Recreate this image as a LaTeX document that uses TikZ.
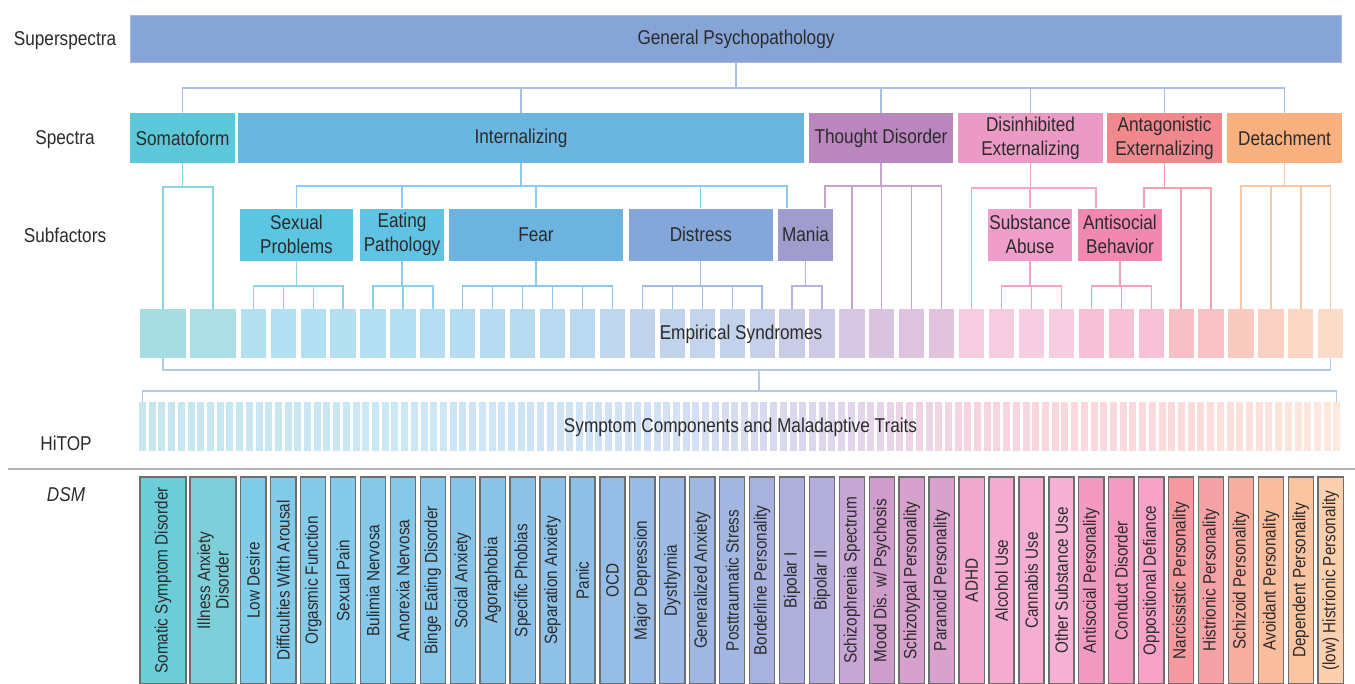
\documentclass[tikz,border=0pt]{standalone}
\usepackage{fontspec}
\setmainfont{Liberation Sans}[FakeStretch=0.86]
\usetikzlibrary{calc}
\definecolor{txt}{HTML}{2B2B2B}
\definecolor{cGP}{HTML}{86A5D6}
\definecolor{cGPb}{HTML}{A3BAE2}
\definecolor{cSom}{HTML}{5CC8DA}
\definecolor{cInt}{HTML}{6AB6E0}
\definecolor{cThd}{HTML}{B986BD}
\definecolor{cDis}{HTML}{EA9AC4}
\definecolor{cAnt}{HTML}{F0888E}
\definecolor{cDet}{HTML}{F8B07E}
\definecolor{cSex}{HTML}{5CC6E2}
\definecolor{cEat}{HTML}{60C3E3}
\definecolor{cFear}{HTML}{6DB3E0}
\definecolor{cDist}{HTML}{84A6D8}
\definecolor{cMan}{HTML}{A09CCE}
\definecolor{cSub}{HTML}{EE9EC8}
\definecolor{cAsb}{HTML}{F088B0}
\definecolor{lGP}{HTML}{A9BFE3}
\definecolor{lSom}{HTML}{8AD6E4}
\definecolor{lInt}{HTML}{8CCBEE}
\definecolor{lThd}{HTML}{C9A3D0}
\definecolor{lDis}{HTML}{F4A6C8}
\definecolor{lAnt}{HTML}{F2A0B2}
\definecolor{lDet}{HTML}{F9C9A5}
\definecolor{lSex}{HTML}{8DD3EC}
\definecolor{lEat}{HTML}{8DD0EC}
\definecolor{lFear}{HTML}{8FC6EC}
\definecolor{lDist}{HTML}{A3BCE6}
\definecolor{lMan}{HTML}{BAB2DE}
\definecolor{lSub}{HTML}{F4A2C6}
\definecolor{lAsb}{HTML}{F3A0C0}
\definecolor{lBr}{HTML}{B7C9EA}
\definecolor{sepc}{HTML}{B4B4B4}
\definecolor{dgray}{HTML}{6E6E6E}
\tikzset{
  box/.style={rectangle, inner sep=0pt, align=center, text=txt, font=\fontsize{20}{24}\selectfont},
  lbl/.style={text=txt, font=\fontsize{20}{24}\selectfont, inner sep=0pt, anchor=base},
  con/.style={line width=1.3pt},
  ebox/.style={rectangle, inner sep=0pt, minimum height=49pt},
  dbox/.style={rectangle, inner sep=0pt, draw=dgray, line width=1.4pt, rotate=90,
    minimum width=207pt, font=\fontsize{17.8}{18.5}\selectfont, text=txt, align=center},
  bar/.style={rectangle, inner sep=0pt, minimum width=7pt, minimum height=49pt},
}
\newcommand\mytree[6]{%
  \coordinate (tb) at (#1.south |- 0,#2);
  \draw[con,#3] (#4) |- (tb) -| (#5);
  \draw[con,#3] (#1.south) -- (tb);
  \foreach \c in {#6} {\draw[con,#3] (tb -| \c) -- (\c);}
}
\begin{document}
\begin{tikzpicture}[x=1pt,y=-1pt]
\useasboundingbox (0,0) rectangle (1355,684);

% ---------- superspectra and spectra
\node[box, fill=cGP, draw=cGPb, line width=1pt, minimum width=1211pt, minimum height=47pt] (gp) at (736,39) {General Psychopathology};
\node[box, fill=cSom, minimum width=105pt, minimum height=50pt] (som) at (182.5,138) {Somatoform};
\node[box, fill=cInt, minimum width=566pt, minimum height=50pt] (int) at (521,138) {Internalizing};
\node[box, fill=cThd, minimum width=144pt, minimum height=50pt] (thd) at (881,138) {Thought Disorder};
\node[box, fill=cDis, minimum width=145pt, minimum height=50pt] (dis) at (1030.5,138) {Disinhibited\\Externalizing};
\node[box, fill=cAnt, minimum width=115pt, minimum height=50pt] (ant) at (1164.5,138) {Antagonistic\\Externalizing};
\node[box, fill=cDet, minimum width=115pt, minimum height=50pt] (det) at (1284.5,138) {Detachment};

% ---------- subfactors
\node[box, fill=cSex, minimum width=113pt, minimum height=52pt] (sex) at (296.5,234.7) {Sexual\\Problems};
\node[box, fill=cEat, minimum width=84pt, minimum height=52pt] (eat) at (402,234.7) {Eating\\Pathology};
\node[box, fill=cFear, minimum width=174pt, minimum height=52pt] (fear) at (536,234.7) {Fear};
\node[box, fill=cDist, minimum width=143.6pt, minimum height=52pt] (dist) at (700.8,234.7) {Distress};
\node[box, fill=cMan, minimum width=55pt, minimum height=52pt] (mania) at (805.5,234.7) {Mania};
\node[box, fill=cSub, minimum width=84pt, minimum height=52pt] (subst) at (1030,234.7) {Substance\\Abuse};
\node[box, fill=cAsb, minimum width=84pt, minimum height=52pt] (antib) at (1120,234.7) {Antisocial\\Behavior};

% ---------- empirical syndromes
\foreach \i/\col in {1/A7DCE3,2/ACDEE6,3/B2E0F1,4/B3E0F2,5/B3E0F2,6/B4E0F2,7/B4DFF2,8/B5DFF2,9/B6DEF2,
  10/B6DCF1,11/B7DBF1,12/B8DAF0,13/B9D9F0,14/BAD8EF,15/BED6EE,16/C0D5ED,17/C2D4EC,18/C3D4EC,19/C4D3EC,
  20/C7D0EA,21/C9CCE7,22/CCCAE6,23/D6C6E1,24/DAC3DF,25/DEC3DE,26/E2C3DD,27/F5CCE0,28/F6CCE0,29/F6CDE1,
  30/F7CDE2,31/F7C0D6,32/F7C1D6,33/F7C2D8,34/F8C0C6,35/F8C2C4,36/F9CABF,37/FAD0C2,38/FBD6C4,39/FCDCC8} {
  \pgfmathsetmacro\xl{\i==1 ? 140 : (\i==2 ? 190 : 240.7+29.93*(\i-3))}
  \pgfmathsetmacro\w{\i<3 ? 46 : 25.2}
  \definecolor{tmpc}{HTML}{\col}
  \node[ebox, fill=tmpc, minimum width=\w pt] (e\i) at (\xl+\w/2, 333.5) {};
}

% ---------- HiTOP bars
\foreach \a/\b/\hA/\hB in {1/25/C6E7EF/CBE8F5, 25/55/CBE8F5/D2E2F4, 55/68/D2E2F4/DAD8EE,
   68/78/DAD8EE/E8D5E8, 78/88/E8D5E8/F8D5E1, 88/108/F8D5E1/FADBDB, 108/124/FADBDB/FDE9DE} {
  \definecolor{ca}{HTML}{\hA}\definecolor{cb}{HTML}{\hB}
  \foreach \i in {\a,...,\b} {
    \pgfmathtruncatemacro\p{100*(\i-\a)/(\b-\a)}
    \node[bar, fill=cb!\p!ca] (h\i) at (142.5+9.71*\i-9.71, 426.5) {};
  }
}

% ---------- DSM boxes
\foreach \i/\col/\t in {1/6CCDD9/Somatic Symptom Disorder, 2/7DD0DA/{Illness Anxiety\\Disorder},
  3/80CDEA/Low Desire, 4/82CBEA/Difficulties With Arousal, 5/84CBEA/Orgasmic Function,
  6/84CAEA/Sexual Pain, 7/85C8EA/Bulimia Nervosa, 8/86C8EA/Anorexia Nervosa,
  9/88C6EA/Binge Eating Disorder, 10/88C4E8/Social Anxiety, 11/8CC4E8/Agoraphobia,
  12/8CC2E8/Specific Phobias, 13/8EC2E8/Separation Anxiety, 14/8EC0E6/Panic, 15/96BDE6/OCD,
  16/98BCE6/Major Depression, 17/9CBAE4/Dysthymia, 18/9EB8E2/Generalized Anxiety,
  19/A2B6E2/Posttraumatic Stress, 20/A8B2DE/Borderline Personality, 21/B0B0DC/Bipolar I,
  22/B4AEDB/Bipolar II, 23/C6A6D4/Schizophrenia Spectrum, 24/CF9CCB/{Mood Dis. w/ Psychosis},
  25/D5A0CC/Schizotypal Personality, 26/D8A2CC/Paranoid Personality, 27/F2A8CC/ADHD,
  28/F5ACD0/Alcohol Use, 29/F5AED2/Cannabis Use, 30/F5B2D4/Other Substance Use,
  31/F39AC0/Antisocial Personality, 32/F49CC0/Conduct Disorder, 33/F5A2C6/Oppositional Defiance,
  34/F4999F/Narcissistic Personality, 35/F5A2A6/Histrionic Personality, 36/F8AE9E/Schizoid Personality,
  37/F9BC9C/Avoidant Personality, 38/FAC4A0/Dependent Personality, 39/FCCFAE/(low) Histrionic Personality} {
  \pgfmathsetmacro\xl{\i==1 ? 140 : (\i==2 ? 190 : 240.7+29.93*(\i-3))}
  \pgfmathsetmacro\w{\i<3 ? 46 : 25.2}
  \definecolor{tmpc}{HTML}{\col}
  \node[dbox, fill=tmpc, minimum height=\w pt] (d\i) at (\xl+\w/2, 580.5) {\t};
}

% ---------- connectors
\mytree{gp}{88}{lGP}{som.north}{det.north}{int.north,thd.north,dis.north,ant.north}
\mytree{som}{187}{lSom}{e1.north}{e2.north}{e1.north}
\coordinate (mI) at (787,0 |- mania.north);
\mytree{int}{186}{lInt}{sex.north}{mI}{eat.north,fear.north,dist.north}
\coordinate (mT) at (825,0 |- mania.north);
\mytree{thd}{186}{lThd}{mT}{e26.north}{e23.north,e24.north,e25.north}
\coordinate (aD) at (1096,0 |- antib.north);
\mytree{dis}{188}{lDis}{e27.north}{aD}{subst.north}
\coordinate (aA) at (1144,0 |- antib.north);
\mytree{ant}{188}{lAnt}{aA}{e35.north}{e34.north}
\mytree{det}{186}{lDet}{e36.north}{e39.north}{e37.north,e38.north}
\mytree{sex}{286}{lSex}{e3.north}{e6.north}{e4.north,e5.north}
\mytree{eat}{286}{lEat}{e7.north}{e9.north}{e8.north}
\mytree{fear}{286}{lFear}{e10.north}{e15.north}{e11.north,e12.north,e13.north,e14.north}
\mytree{dist}{286}{lDist}{e16.north}{e20.north}{e17.north,e18.north,e19.north}
\mytree{mania}{286}{lMan}{e21.north}{e22.north}{e21.north}
\mytree{subst}{286}{lSub}{e28.north}{e30.north}{e29.north}
\mytree{antib}{286}{lAsb}{e31.north}{e33.north}{e32.north}

\coordinate (b1) at (759,370);
\coordinate (b2) at (759,391);
\draw[con,lBr] (e1.south) |- (b1) -| (e39.south);
\draw[con,lBr] (b1) -- (b2);
\draw[con,lBr] (h1.north) |- (b2) -| (h124.north);

% separator
\coordinate (s1) at (8,469);
\coordinate (s2) at (1355,469);
\draw[line width=1.5pt, sepc] (s1) -- (s2);

% ---------- texts
\node[lbl] (esl) at (741,340) {Empirical Syndromes};
\node[lbl] (scl) at (740.5,432) {Symptom Components and Maladaptive Traits};
\node[lbl] (Lss) at (65,46) {Superspectra};
\node[lbl] (Lsp) at (65,145) {Spectra};
\node[lbl] (Lsf) at (65,243) {Subfactors};
\node[lbl] (Lhi) at (66,450.5) {HiTOP};
\node[lbl, font=\fontsize{20}{24}\selectfont\itshape] (Ldsm) at (66,501) {DSM};
\end{tikzpicture}
\end{document}
